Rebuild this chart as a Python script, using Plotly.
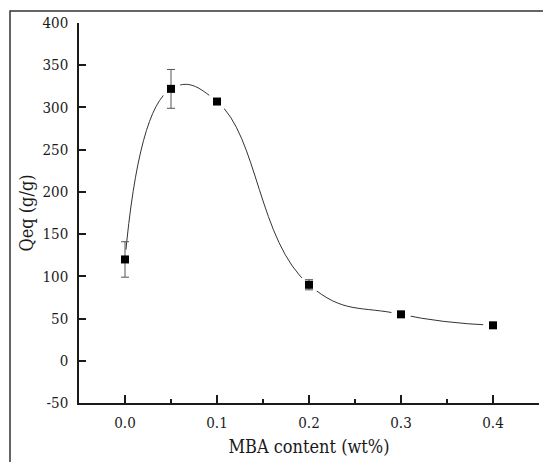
import plotly.graph_objects as go

mba = [0.0, 0.05, 0.1, 0.2, 0.3, 0.4]
qeq = [120, 322, 307, 90, 55, 42]
err = [21, 23, 0, 6, 0, 0]
xticks = [0.0, 0.1, 0.2, 0.3, 0.4]
xticklabels = ["0.0", "0.1", "0.2", "0.3", "0.4"]
yticks = [-50, 0, 50, 100, 150, 200, 250, 300, 350, 400]
yticklabels = ["-50", "0", "50", "100", "150", "200", "250", "300", "350", "400"]

FONT = "DejaVu Serif Condensed"
INK = "#1a1a1a"

fig = go.Figure()
fig.add_trace(go.Scatter(x=mba, y=qeq, mode="lines",
                         line=dict(shape="spline", smoothing=1.3, color="#333", width=1),
                         hoverinfo="skip", showlegend=False))
fig.add_trace(go.Scatter(x=mba, y=qeq, mode="markers",
                         marker=dict(symbol="circle", size=20, color="white"),
                         hoverinfo="skip", showlegend=False))
fig.add_trace(go.Scatter(x=mba, y=qeq, mode="markers",
                         marker=dict(symbol="square", size=8, color="black"),
                         error_y=dict(type="data", array=err, visible=True,
                                      color="#555", thickness=1, width=4),
                         showlegend=False))

fig.update_layout(
    width=543, height=462,
    margin=dict(l=79, r=4, t=23, b=59),
    paper_bgcolor="white", plot_bgcolor="white",
    font=dict(family=FONT, color=INK, size=15),
    xaxis=dict(range=[-0.05, 0.45], tickvals=xticks, ticktext=xticklabels,
               ticks="inside", ticklen=8, tickwidth=1.5, tickcolor=INK,
               showline=True, linecolor=INK, linewidth=1.5, mirror=False,
               showgrid=False, zeroline=False,
               ticklabelstandoff=5,
               tickfont=dict(family=FONT, size=15, color=INK),
               minor=dict(dtick=0.05, tick0=-0.05, ticks="inside", ticklen=4,
                          tickwidth=1.5, tickcolor=INK, showgrid=False),
               title=dict(text="MBA content (wt%)", font=dict(family=FONT, size=18, color=INK), standoff=10)),
    yaxis=dict(range=[-50, 400], tickvals=yticks, ticktext=yticklabels,
               ticks="inside", ticklen=7, tickwidth=1.5, tickcolor=INK,
               showline=True, linecolor=INK, linewidth=1.5, mirror=False,
               showgrid=False, zeroline=False,
               ticklabelstandoff=6,
               tickfont=dict(family=FONT, size=15, color=INK),
               title=dict(text="Qeq (g/g)", font=dict(family=FONT, size=18, color=INK), standoff=4)),
    shapes=[dict(type="rect", xref="paper", yref="paper",
                 x0=-0.15, x1=1.3, y0=-0.5, y1=1.0316,
                 line=dict(color="#333", width=1.5), layer="below")],
)

fig.write_html("out.html")
